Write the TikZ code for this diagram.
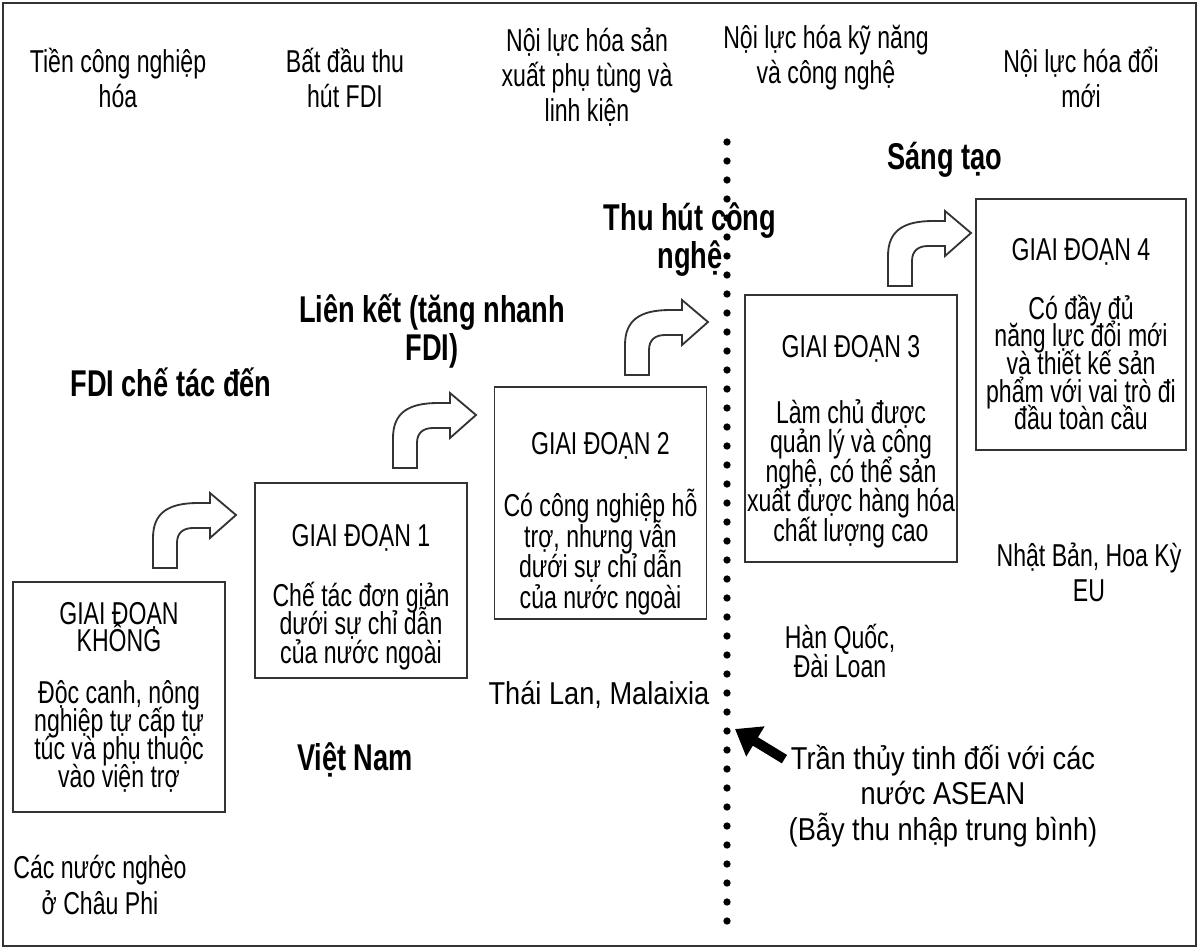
\documentclass[tikz,border=0pt]{standalone}
\usepackage{fontspec}
\setmainfont[FakeStretch=0.73]{Liberation Sans}
\newfontfamily\widefont[FakeStretch=0.86]{Liberation Sans}
\usetikzlibrary{arrows.meta}
\newcommand\tightlines{\lineskiplimit=-100pt\relax}
\newcommand\stagefont[1]{\fontsize{22.5pt}{#1}\selectfont\tightlines}

\tikzset{
  stage/.style={draw=black!80, line width=1.3pt, minimum width=5.3cm, align=center,
    inner sep=0pt, font=\stagefont{19.8pt}},
  note/.style={align=center, inner sep=0pt,
    font=\fontsize{22.5pt}{25pt}\selectfont\tightlines},
  widenote/.style={note, font=\fontsize{22.5pt}{25pt}\widefont\tightlines},
  keyword/.style={align=center, inner sep=0pt,
    font=\fontsize{26.5pt}{27pt}\selectfont\bfseries\tightlines},
  ceilarrow/.style={line width=7pt, -{Triangle[length=17pt,width=24pt]}},
  pics/turnarrow/.style={code={
    \draw[line width=1.3pt, draw=black!80, fill=white] (0,0) -- (0,-30)
      .. controls (0,-55) and (15,-65) .. (45,-65) -- (57,-65) -- (57,-75)
      -- (83,-53) -- (57,-30) -- (57,-40) -- (40,-40)
      .. controls (30,-40) and (24,-35) .. (24,-25) -- (24,0) -- cycle;
  }}
}

\begin{document}
\begin{tikzpicture}[x=0.025cm,y=-0.025cm]
\useasboundingbox (0,0) rectangle (1200,949);
\draw[line width=1.3pt, draw=black!80] (3,3) rectangle (1196,946);

% phases along the top
\node[note] (pre) at (118,78) {Tiền công nghiệp\\hóa};
\node[note] (begin) at (345,78) {Bất đầu thu\\hút FDI};
\node[note] (parts) at (587,77) {Nội lực hóa sản\\xuất phụ tùng và\\linh kiện};
\node[note] (skills) at (826,58) {Nội lực hóa kỹ năng\\và công nghệ};
\node[note] (innov) at (1081,77) {Nội lực hóa đổi\\mới};

% the glass ceiling
\foreach \k in {0,...,41}
  \fill (727,{142+19*\k}) circle (2.6pt);

\node[keyword] (create) at (945,160) {Sáng tạo};
\node[keyword] (absorb) at (690,240) {Thu hút công\\nghệ};
\node[keyword] (link) at (432,331) {Liên kết (tăng nhanh\\FDI)};
\node[keyword] (fdi) at (171,382) {FDI chế tác đến};
\node[keyword] (vn) at (355,760) {Việt Nam};

% stages
\node[stage, minimum height=5.75cm, font=\stagefont{19.7pt}] (s0) at (119,697) {GIAI ĐOẠN\\KHÔNG\\[17.3pt]Độc canh, nông\\nghiệp tự cấp tự\\túc và phụ thuộc\\vào viện trợ};
\node[stage, minimum height=4.875cm, font=\stagefont{20.3pt}] (s1) at (361,580.5) {\rule{0pt}{39.3pt}GIAI ĐOẠN 1\\[22.4pt]Chế tác đơn giản\\dưới sự chỉ dẫn\\của nước ngoài};
\node[stage, minimum height=5.8cm, font=\stagefont{21.8pt}] (s2) at (600.5,503) {\rule{0pt}{45pt}GIAI ĐOẠN 2\\[22.3pt]Có công nghiệp hỗ\\trợ, nhưng vẫn\\dưới sự chỉ dẫn\\của nước ngoài};
\node[stage, minimum height=6.675cm, font=\stagefont{21pt}] (s3) at (851,428.5) {\rule{0pt}{34.3pt}GIAI ĐOẠN 3\\[25.9pt]Làm chủ được\\quản lý và công\\nghệ, có thể sản\\xuất được hàng hóa\\chất lượng cao};
\node[stage, minimum width=5.25cm, minimum height=6.275cm, font=\stagefont{19.6pt}] (s4) at (1081,324.5) {\rule{0pt}{29.3pt}GIAI ĐOẠN 4\\[22.4pt]Có đầy đủ\\năng lực đổi mới\\và thiết kế sản\\phẩm với vai trò đi\\đầu toàn cầu};

\pic at (153,568) {turnarrow};
\pic at (393,468) {turnarrow};
\pic at (625,375) {turnarrow};
\pic at (888,286) {turnarrow};

% countries
\node[widenote] (thai) at (599,695) {Thái Lan, Malaixia};
\node[note, font=\fontsize{22.5pt}{20pt}\selectfont\tightlines] (korea) at (840,651) {Hàn Quốc,\\Đài Loan};
\node[note] (japan) at (1089,572) {Nhật Bản, Hoa Kỳ\\EU};
\node[widenote] (glass) at (943,796) {Trần thủy tinh đối với các\\nước ASEAN\\(Bẫy thu nhập trung bình)};
\node[note] (africa) at (100,885) {Các nước nghèo\\ở Châu Phi};

\coordinate (ceil) at (735,729);
\draw[ceilarrow] (glass.north west) ++(-4,14) -- (ceil);
\end{tikzpicture}
\end{document}
